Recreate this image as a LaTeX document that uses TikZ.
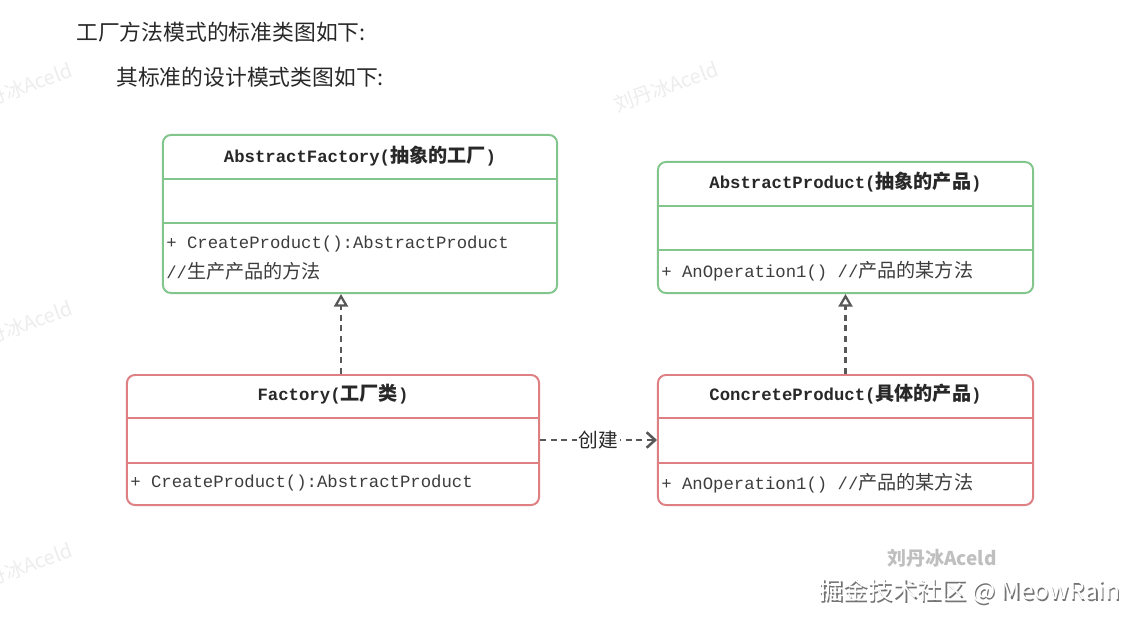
\documentclass[tikz,border=0pt]{standalone}
\usepackage{fontspec}
\usepackage{xcolor}
\usetikzlibrary{arrows.meta,positioning,calc}
\setmonofont{Liberation Mono}
\newfontfamily\zhfont{Noto Sans CJK SC}
\newcommand{\zh}[1]{{\zhfont\fontsize{13.6}{15}\selectfont #1}}
\definecolor{BoxGreen}{RGB}{130,198,140}
\definecolor{BoxRed}{RGB}{222,128,130}
\definecolor{LinkGray}{RGB}{88,88,88}
\definecolor{TextDark}{RGB}{40,40,40}

\begin{document}
\begin{tikzpicture}[x=0.025cm, y=-0.025cm,
    classgreen/.style={draw=BoxGreen, line width=1.4pt, rounded corners=0.2cm, inner sep=0pt},
    classred/.style={draw=BoxRed, line width=1.4pt, rounded corners=0.2cm, inner sep=0pt},
    greenline/.style={draw=BoxGreen, line width=1.4pt},
    redline/.style={draw=BoxRed, line width=1.4pt},
    classname/.style={text=TextDark, inner sep=0pt, font=\ttfamily\bfseries\fontsize{12.3}{14}\selectfont},
    member/.style={text=TextDark!90, anchor=west, inner sep=0pt, font=\ttfamily\fontsize{12.3}{14}\selectfont},
    heading/.style={text=TextDark, anchor=west, inner sep=0pt, font=\zhfont\fontsize{15.5}{17}\selectfont},
    wmark/.style={text=black!7, rotate=20, inner sep=0pt, font=\zhfont\fontsize{14}{16}\selectfont},
    realize/.style={LinkGray, line width=2pt, dash pattern=on 4.3pt off 3.3pt, -{Triangle[open, length=9pt, width=10pt, line width=1.6pt]}},
    depend/.style={LinkGray, line width=2pt, dash pattern=on 4.3pt off 3.3pt, -{Straight Barb[length=6pt, width=11pt, line width=1.8pt]}}]
  \fill[white] (0,0) rectangle (1144,624);
  \useasboundingbox (0,0) rectangle (1144,624);
  % watermarks
  \node[wmark] (wm1) at (20,88) {刘丹冰Aceld};
  \node[wmark] (wm2) at (666,87) {刘丹冰Aceld};
  \node[wmark] (wm3) at (20,326) {刘丹冰Aceld};
  \node[wmark] (wm4) at (20,568) {刘丹冰Aceld};
  % headings
  \node[heading] (headA) at (76,32) {工厂方法模式的标准类图如下:};
  \node[heading] (headB) at (116,77) {其标准的设计模式类图如下:};
  % class boxes
  \node[classgreen, minimum width=9.85cm, minimum height=3.95cm] (absF) at (360,214) {};
  \node[classgreen, minimum width=9.375cm, minimum height=3.275cm] (absP) at (845.5,227.5) {};
  \node[classred, minimum width=10.3cm, minimum height=3.25cm] (fac) at (333,440) {};
  \node[classred, minimum width=9.375cm, minimum height=3.25cm] (conP) at (845.5,440) {};
  % compartments
  \draw[greenline] (absF.west |- 0,179) -- (absF.east |- 0,179);
  \draw[greenline] (absF.west |- 0,223) -- (absF.east |- 0,223);
  \draw[greenline] (absP.west |- 0,206) -- (absP.east |- 0,206);
  \draw[greenline] (absP.west |- 0,250) -- (absP.east |- 0,250);
  \draw[redline] (fac.west |- 0,418) -- (fac.east |- 0,418);
  \draw[redline] (fac.west |- 0,463) -- (fac.east |- 0,463);
  \draw[redline] (conP.west |- 0,418) -- (conP.east |- 0,418);
  \draw[redline] (conP.west |- 0,463) -- (conP.east |- 0,463);
  % class texts
  \node[classname] (absFt) at (360,156) {AbstractFactory(\zh{\bfseries 抽象的工厂})};
  \node[member] (absFm) at (166,244) {+ CreateProduct():AbstractProduct};
  \node[member] (absFc) at (166,271) {//\zh{生产产品的方法}};
  \node[classname] (absPt) at (845.5,182) {AbstractProduct(\zh{\bfseries 抽象的产品})};
  \node[member] (absPm) at (661,271) {+ AnOperation1() //\zh{产品的某方法}};
  \node[classname] (facT) at (333,394) {Factory(\zh{\bfseries 工厂类})};
  \node[member] (facM) at (130,483) {+ CreateProduct():AbstractProduct};
  \node[classname] (conPt) at (845.5,394) {ConcreteProduct(\zh{\bfseries 具体的产品})};
  \node[member] (conPm) at (661,483) {+ AnOperation1() //\zh{产品的某方法}};
  % relations
  \draw[realize] ([xshift=0.2cm]fac.north) -- ([xshift=0.2cm]fac.north |- absF.south);
  \draw[realize] (conP.north) -- (absP.south);
  \draw[depend] (fac.east) -- (conP.west)
    node[midway, fill=white, inner sep=1pt, text=TextDark, font=\zhfont\fontsize{14}{16}\selectfont] (create) {创建};
  % footer marks
  \node[text=black!25, inner sep=0pt, font=\zhfont\bfseries\fontsize{13.5}{15}\selectfont] (wm5) at (942,558) {刘丹冰Aceld};
  \node[text=black!55, inner sep=0pt, font=\zhfont\fontsize{17.5}{19}\selectfont] (jjS) at (971,593) {掘金技术社区 @ MeowRain};
  \node[text=white, inner sep=0pt, font=\zhfont\fontsize{17.5}{19}\selectfont] (jj) at (969.5,591.5) {掘金技术社区 @ MeowRain};
\end{tikzpicture}
\end{document}
